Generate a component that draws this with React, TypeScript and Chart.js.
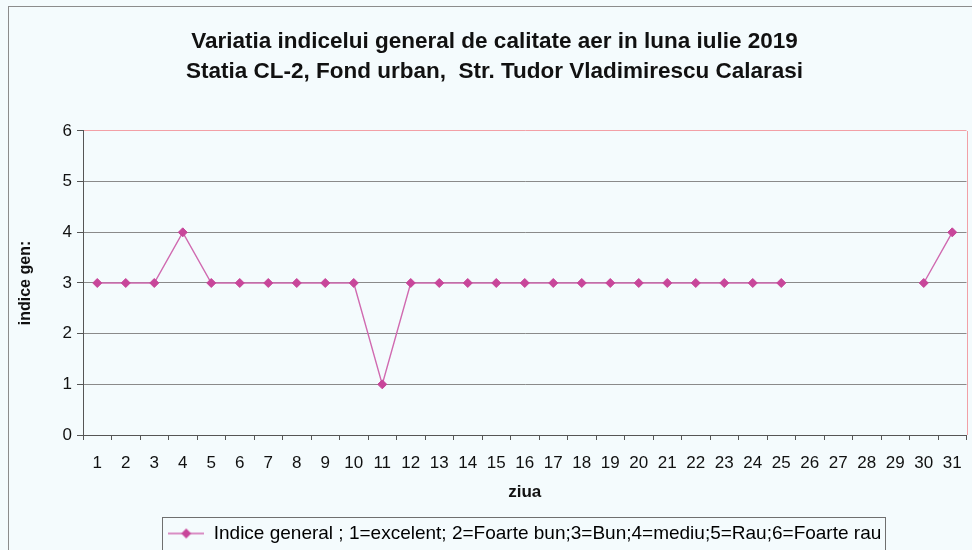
import React, { useEffect, useRef } from "react";
import { Chart, registerables } from "chart.js";

Chart.register(...registerables);

const dayLabels = [
  "1", "2", "3", "4", "5", "6", "7", "8", "9", "10",
  "11", "12", "13", "14", "15", "16", "17", "18", "19", "20",
  "21", "22", "23", "24", "25", "26", "27", "28", "29", "30", "31",
];

const indiceValues: (number | null)[] = [
  3, 3, 3, 4, 3, 3, 3, 3, 3, 3,
  1, 3, 3, 3, 3, 3, 3, 3, 3, 3,
  3, 3, 3, 3, 3, null, null, null, null, 3, 4,
];

const yMin = 0;
const yMax = 6;
const yStep = 1;

const titleLines = [
  "Variatia indicelui general de calitate aer in luna iulie 2019",
  "Statia CL-2, Fond urban,  Str. Tudor Vladimirescu Calarasi",
];
const xTitle = "ziua";
const yTitle = "indice gen:";
const legendText =
  "Indice general ; 1=excelent; 2=Foarte bun;3=Bun;4=mediu;5=Rau;6=Foarte rau";

const LINE_COLOR = "#d06ab0";
const POINT_COLOR = "#c8469a";
const FONT = "'Liberation Sans', Arial, sans-serif";

function makeMarker(): HTMLCanvasElement {
  const c = document.createElement("canvas");
  c.width = 36;
  c.height = 12;
  const g = c.getContext("2d")!;
  g.strokeStyle = LINE_COLOR;
  g.lineWidth = 1.5;
  g.beginPath();
  g.moveTo(0, 6);
  g.lineTo(36, 6);
  g.stroke();
  g.fillStyle = POINT_COLOR;
  g.beginPath();
  g.moveTo(18, 1);
  g.lineTo(23, 6);
  g.lineTo(18, 11);
  g.lineTo(13, 6);
  g.closePath();
  g.fill();
  return c;
}

const framePlugin = {
  id: "frame",
  beforeDraw(chart: any) {
    const { ctx, width, height } = chart;
    ctx.save();
    ctx.fillStyle = "#f4fbfd";
    ctx.fillRect(0, 0, width, height);
    ctx.strokeStyle = "#8c8c8c";
    ctx.lineWidth = 1;
    ctx.strokeRect(8.5, 6.5, width + 20, height + 20);
    ctx.restore();
    const tb = chart.titleBlock;
    if (tb && !tb.__shifted) {
      const orig = tb.draw;
      tb.draw = function (...args: any[]) {
        chart.ctx.save();
        chart.ctx.translate(11, 0);
        orig.apply(this, args);
        chart.ctx.restore();
      };
      tb.__shifted = true;
    }
  },
  beforeDatasetsDraw(chart: any) {
    const { ctx, chartArea: a } = chart;
    ctx.save();
    ctx.strokeStyle = "#f2a0a6";
    ctx.lineWidth = 1;
    const x = Math.round(a.right) + 0.5;
    ctx.beginPath();
    ctx.moveTo(x, a.top);
    ctx.lineTo(x, a.bottom);
    ctx.stroke();
    ctx.restore();
  },
  afterDraw(chart: any) {
    const lg = chart.legend;
    const hb = lg && lg.legendHitBoxes && lg.legendHitBoxes[0];
    if (!hb) return;
    const { ctx } = chart;
    ctx.save();
    ctx.strokeStyle = "#6f6f6f";
    ctx.lineWidth = 1;
    const left = Math.round(hb.left - 6) + 0.5;
    const top = Math.round(hb.top + hb.height / 2 - 16.5) + 0.5;
    ctx.strokeRect(left, top, Math.round(hb.width + 10), 60);
    ctx.restore();
  },
};

export default function App() {
  const ref = useRef<HTMLCanvasElement | null>(null);

  useEffect(() => {
    if (!ref.current) return;
    const marker = makeMarker();
    const chart = new Chart(ref.current, {
      type: "line",
      data: {
        labels: dayLabels,
        datasets: [
          {
            label: legendText,
            data: indiceValues,
            borderColor: LINE_COLOR,
            backgroundColor: POINT_COLOR,
            borderWidth: 1.4,
            pointStyle: "rectRot",
            pointRadius: 4.5,
            pointBackgroundColor: POINT_COLOR,
            pointBorderColor: POINT_COLOR,
            pointBorderWidth: 1,
            spanGaps: false,
            tension: 0,
          },
        ],
      },
      options: {
        responsive: false,
        animation: false,
        devicePixelRatio: 1,
        layout: { padding: { left: 0, right: 5, top: 0, bottom: -3 } },
        plugins: {
          tooltip: { enabled: false },
          title: {
            display: true,
            text: titleLines,
            color: "#111",
            font: { family: FONT, size: 22.5, weight: "bold", lineHeight: 1.3333 },
            padding: { top: 27, bottom: 44 },
          },
          legend: {
            display: true,
            position: "bottom",
            fullSize: false,
            labels: {
              color: "#111",
              font: { family: FONT, size: 19 },
              usePointStyle: true,
              pointStyleWidth: 36,
              padding: 8,
              generateLabels: () => [
                {
                  text: legendText,
                  fillStyle: POINT_COLOR,
                  strokeStyle: LINE_COLOR,
                  lineWidth: 0,
                  pointStyle: marker as any,
                  hidden: false,
                  datasetIndex: 0,
                },
              ],
            },
          },
        },
        scales: {
          x: {
            type: "category",
            offset: true,
            afterFit: (s: any) => {
              s.height = 81;
              s.paddingLeft = 0;
              s.paddingRight = 0;
            },
            grid: {
              display: true,
              offset: true,
              drawOnChartArea: false,
              drawTicks: true,
              tickLength: 5,
              tickColor: "#555",
            },
            border: { display: true, color: "#555", width: 1 },
            ticks: {
              color: "#111",
              font: { family: FONT, size: 17 },
              padding: 13,
              maxRotation: 0,
              autoSkip: false,
            },
            title: {
              display: true,
              text: xTitle,
              color: "#111",
              font: { family: FONT, size: 17, weight: "bold", lineHeight: 1.2 },
              padding: { top: 0, bottom: 13 },
            },
          },
          y: {
            min: yMin,
            max: yMax,
            afterFit: (s: any) => {
              s.width = 83;
            },
            grid: {
              color: (c: any) => (c.tick && c.tick.value === yMax ? "#f2a0a6" : "#8a8a8a"),
              tickColor: "#555",
              tickLength: 6,
              lineWidth: 1,
            },
            border: { display: true, color: "#555", width: 1 },
            ticks: {
              stepSize: yStep,
              color: "#111",
              font: { family: FONT, size: 17 },
              padding: 5,
            },
            title: {
              display: true,
              text: yTitle,
              color: "#111",
              font: { family: FONT, size: 16, weight: "bold", lineHeight: 1.2 },
              padding: { top: 16, bottom: 0 },
            },
          },
        },
      },
      plugins: [framePlugin],
    });
    return () => chart.destroy();
  }, []);

  return (
    <div style={{ position: "absolute", left: 0, top: 0, width: 972, height: 550 }}>
      <canvas ref={ref} width={972} height={550} style={{ display: "block", width: 972, height: 550 }} />
    </div>
  );
}
